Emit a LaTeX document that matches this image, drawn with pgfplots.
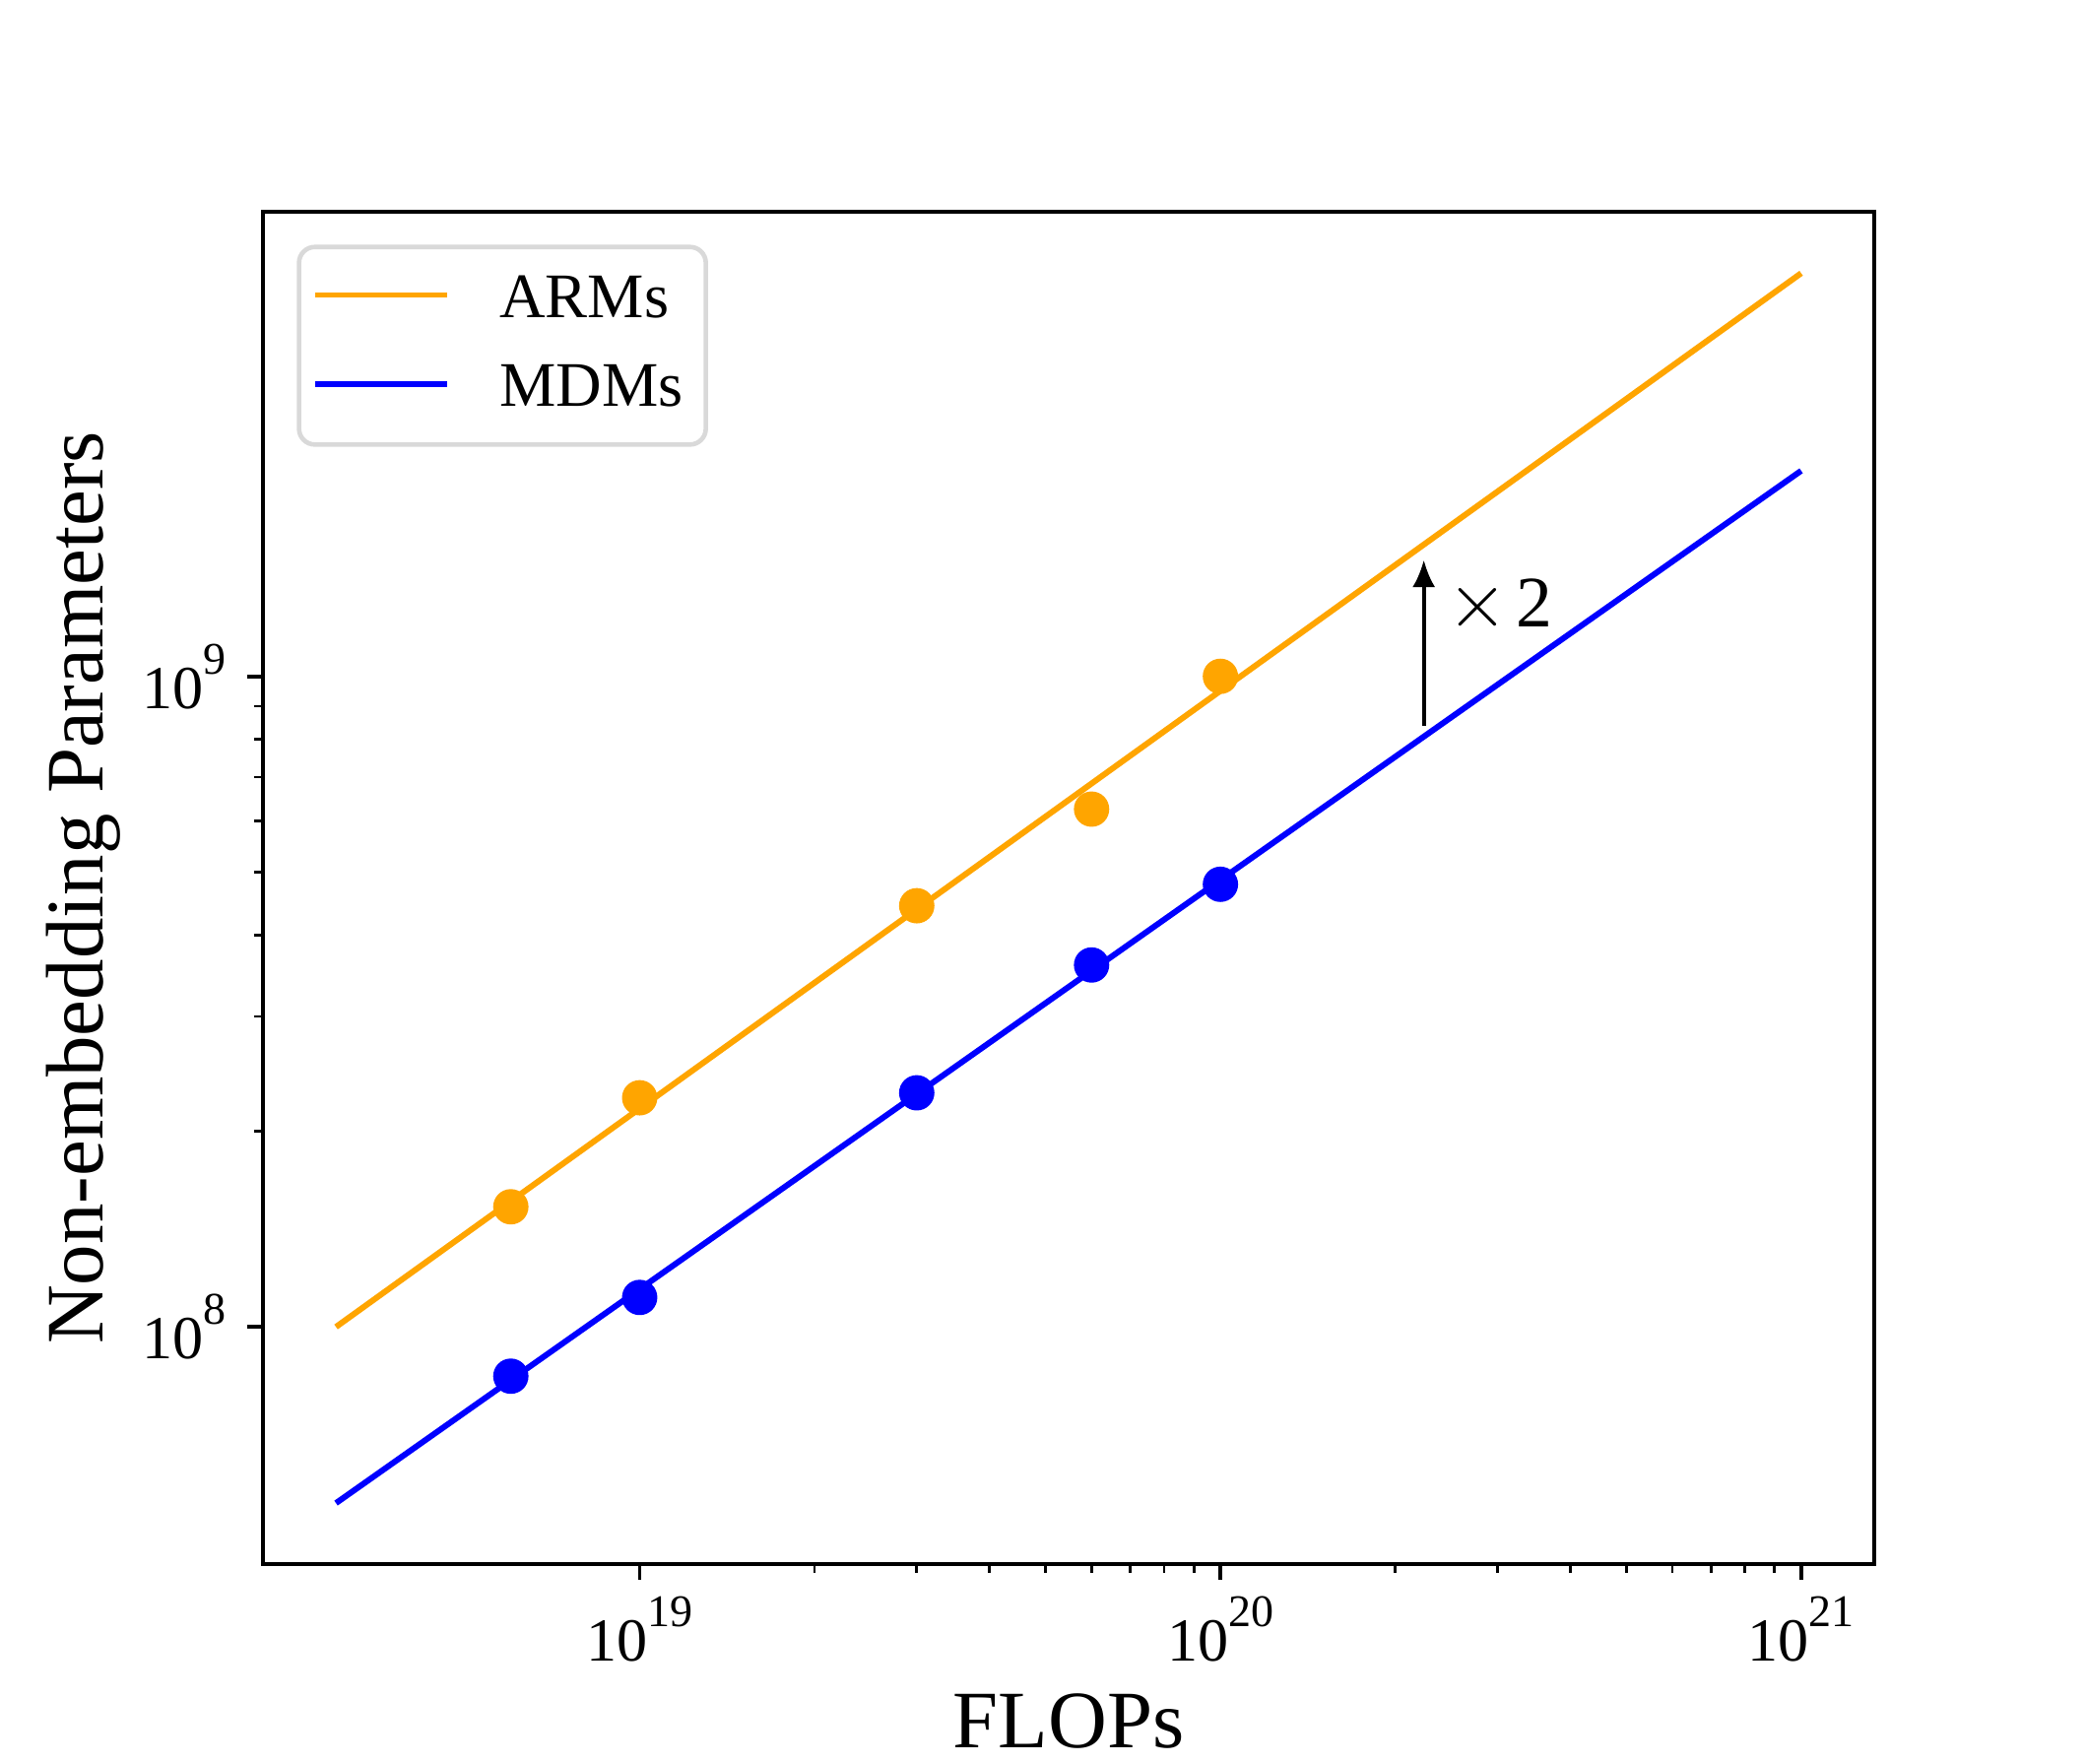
\documentclass[border=0pt]{standalone}
\usepackage{fontspec}
\setmainfont{Liberation Serif}
\usepackage{pgfplots}
\pgfplotsset{compat=1.18}
\usetikzlibrary{arrows.meta}
\definecolor{mplorange}{HTML}{FFA500}
\definecolor{legendgray}{HTML}{D9D9D9}
\newcommand{\tenpow}[1]{10\raisebox{7.6pt}{\fontsize{10}{10}\selectfont #1}}
\begin{document}
\begin{tikzpicture}
\begin{axis}[
  at={(0,0)}, anchor=south west,
  scale only axis,
  width=355.6pt, height=298.4pt,
  xmode=log, ymode=log,
  xmin=2.244e18, xmax=1.337e21,
  ymin=4.32e7, ymax=5.18e9,
  axis line style={line width=0.8pt},
  tick align=outside,
  tick pos=left,
  major tick length=3.5pt,
  minor tick length=2pt,
  every tick/.style={line width=0.8pt, black},
  minor tick style={line width=0.6pt},
  xtick={1e19,1e20,1e21},
  xticklabels={\tenpow{19},\tenpow{20},\tenpow{21}},
  ytick={1e8,1e9},
  yticklabels={\tenpow{8},\tenpow{9}},
  ticklabel style={font=\fontsize{13.5}{16}\selectfont},
  xticklabel style={anchor=base, yshift=-18pt},
  yticklabel style={anchor=east, xshift=-1pt},
  xlabel={FLOPs},
  ylabel={Non-embedding Parameters},
  label style={font=\fontsize{18}{21}\selectfont},
  xlabel style={at={(axis description cs:0.5,0)}, anchor=base, yshift=-40.5pt},
  ylabel style={at={(axis description cs:0,0.5)}, anchor=center, xshift=0pt, yshift=39.5pt},
  legend style={at={(0,1)}, anchor=north west, xshift=7.5pt, yshift=-7.3pt,
    draw=legendgray, line width=1pt, rounded corners=3.5pt,
    font=\fontsize{14}{16}\selectfont,
    inner xsep=3pt, inner ysep=3.5pt, row sep=2.6pt,
    nodes={inner xsep=2pt, inner ysep=2pt, text height=10pt, text depth=3pt}},
  legend cell align=left,
  legend image code/.code={\draw[#1, line width=1.3pt] (0pt,1.4pt) -- (29pt,1.4pt); \path (38pt,1.4pt);},
]
% fitted lines
\addplot[mplorange, line width=1.3pt] coordinates {(3e18,1.0e8) (1e21,4.165e9)};
\addlegendentry{ARMs}
\addplot[blue, line width=1.3pt] coordinates {(3e18,5.36e7) (1e21,2.07e9)};
\addlegendentry{MDMs}
% data points
\addplot[only marks, mark=*, mark size=3.7pt, mplorange, forget plot] coordinates {
  (6e18,1.53e8) (1e19,2.25e8) (3e19,4.44e8) (6e19,6.25e8) (1e20,1.0e9)};
\addplot[only marks, mark=*, mark size=3.7pt, blue, forget plot] coordinates {
  (6e18,8.4e7) (1e19,1.11e8) (3e19,2.29e8) (6e19,3.6e8) (1e20,4.79e8)};
% x2 arrow
\addplot[black, line width=0.8pt, -{Latex[length=6pt,width=5pt]}, forget plot] coordinates {(2.24e20,8.4e8) (2.24e20,1.51e9)};
\node[anchor=west, font=\fontsize{16}{18}\selectfont, inner sep=0pt] at (axis cs:2.45e20,1.28e9) {$\times$\hspace{1.8pt}2};
\end{axis}
\path[use as bounding box] (-57.95pt,-43.1pt) rectangle (402.1pt,345.1pt);
\end{tikzpicture}
\end{document}
